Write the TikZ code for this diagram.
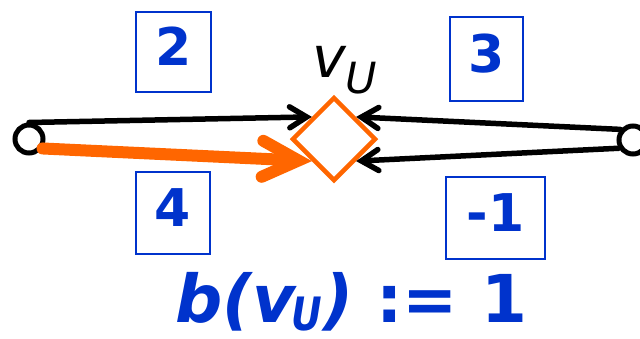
\documentclass[tikz,border=0pt]{standalone}
\usepackage{fontspec}
\setmainfont{DejaVu Sans}
\usetikzlibrary{arrows.meta,shapes.geometric}
\definecolor{myblue}{RGB}{0,51,204}
\definecolor{myorange}{RGB}{255,102,0}
\begin{document}
\begin{tikzpicture}[x=1pt,y=-1pt,
  vert/.style={circle,draw=black,line width=5pt,fill=white,minimum size=28pt,inner sep=0pt},
  valbox/.style={draw=myblue,line width=2.2pt,text=myblue,font=\fontsize{52}{56}\selectfont\bfseries,inner sep=0pt,text height=38pt,text depth=12pt},
  edgearrow/.style={line width=5.5pt,line cap=round,-{Straight Barb[length=17pt,width=21pt,line cap=round]}},
  hotarrow/.style={draw=myorange,line width=12pt,line cap=round,-{Straight Barb[length=36pt,width=36pt,line cap=round]}},
]
\useasboundingbox (0,0) rectangle (640,338);
\node[diamond,aspect=1,draw=myorange,line width=4.5pt,fill=white,minimum width=84pt,minimum height=84pt,inner sep=0pt] (D) at (334,139) {};
\node[vert] (L) at (29,139) {};
\node[vert] (R) at (633,140) {};
\draw[edgearrow] (L.north) -- (D.north west);
\draw[edgearrow] (R.140) -- (D.north east);
\draw[edgearrow] (R.-150) -- (D.south east);
\draw[hotarrow] (L.-35) -- (D.south west);
\node[valbox,minimum width=75pt,minimum height=80pt] (b2) at (173.5,52) {2};
\node[valbox,minimum width=73pt,minimum height=84pt] (b3) at (486.5,59) {3};
\node[valbox,minimum width=74pt,minimum height=82pt] (b4) at (173,213) {4};
\node[valbox,minimum width=99pt,minimum height=82pt] (bm1) at (495.5,218) {-1};
\node[anchor=base west,inner sep=0pt,font=\fontsize{57}{60}\selectfont\itshape] (vu) at (312,77) {v\raisebox{-16pt}{\fontsize{43}{44}\selectfont U}};
\node[anchor=base west,inner sep=0pt,text=myblue,font=\fontsize{66}{70}\selectfont\bfseries] (bv) at (175,322) {\itshape b(v\kern-4pt\raisebox{-8pt}{\scalebox{0.82}[1]{\fontsize{46}{50}\selectfont U}}\kern1pt)\upshape{} := 1};
\end{tikzpicture}
\end{document}
